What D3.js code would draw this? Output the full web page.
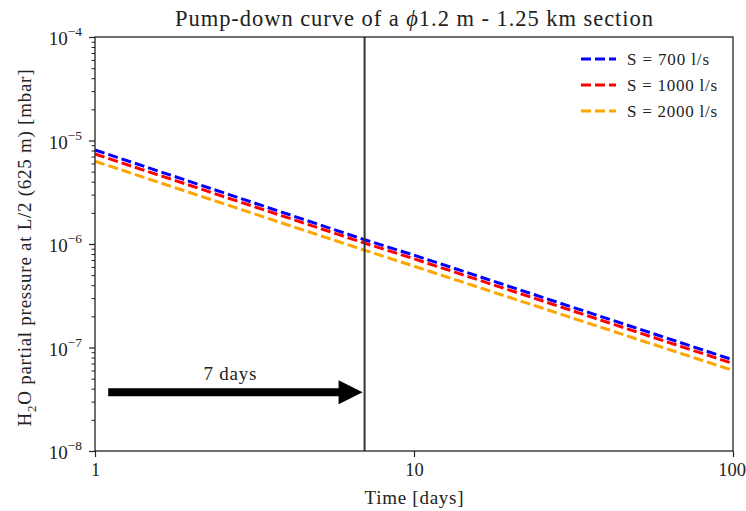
<!DOCTYPE html>
<html>
<head>
<meta charset="utf-8">
<script src="https://cdn.jsdelivr.net/npm/d3@7"></script>
<style>
  body { margin: 0; background: #fff; }
  text { font-family: "Liberation Serif", "DejaVu Serif", serif; fill: #222; }
</style>
</head>
<body>
<svg id="chart" width="746" height="511"></svg>
<script>
// values (log-log pump-down curves)
const days = [1, 7, 10, 100];
const p700 = [8.1e-6, 1.1e-6, 7.8e-7, 7.6e-8];
const p1000 = [7.4e-6, 1.02e-6, 7.2e-7, 7.0e-8];
const p2000 = [6.3e-6, 0.87e-6, 6.1e-7, 6.0e-8];
const seriesNames = ["S = 700 l/s", "S = 1000 l/s", "S = 2000 l/s"];
const seriesColors = ["#0000ff", "#ff0000", "#ffa500"];
const xTicks = [1, 10, 100];
const yTicks = [1e-8, 1e-7, 1e-6, 1e-5, 1e-4];
const markDay = 7;

const svg = d3.select("#chart");
const margin = { left: 95, right: 13, top: 37, bottom: 60 };
const W = 746, H = 511;

const x = d3.scaleLog().domain([1, 100]).range([margin.left, W - margin.right]);
const y = d3.scaleLog().domain([1e-8, 1e-4]).range([H - margin.bottom, margin.top]);
const xMid = (x.range()[0] + x.range()[1]) / 2;

// title (Palatino in the original is wider than Times, so stretch to width)
const title = svg.append("text")
   .attr("x", xMid)
   .attr("y", 26)
   .attr("text-anchor", "middle")
   .attr("textLength", 478)
   .style("font-size", "22.5px");
title.append("tspan").text("Pump-down curve of a ");
title.append("tspan").style("font-style", "italic").text("ϕ");
title.append("tspan").text("1.2 m - 1.25 km section");

// series
const allSeries = [p700, p1000, p2000];
const line = d3.line().x(d => x(d[0])).y(d => y(d[1]));
allSeries.forEach((vals, i) => {
  svg.append("path")
     .datum(days.map((d, j) => [d, vals[j]]))
     .attr("d", line)
     .attr("fill", "none")
     .attr("stroke", seriesColors[i])
     .attr("stroke-width", 3)
     .attr("stroke-dasharray", "10,4");
});

// vertical marker at 7 days
svg.append("line")
   .attr("x1", x(markDay)).attr("x2", x(markDay))
   .attr("y1", y.range()[1]).attr("y2", y.range()[0])
   .attr("stroke", "#333").attr("stroke-width", 2);

// arrow 1.1 -> 7 days
const ay = y(3.7e-8), ax0 = x(1.1), ax1 = x(6.9);
const shaft = 4, headW = 12, headL = 24;
svg.append("path")
   .attr("d", `M${ax0},${ay - shaft} L${ax1 - headL},${ay - shaft} L${ax1 - headL},${ay - headW}
               L${ax1},${ay} L${ax1 - headL},${ay + headW} L${ax1 - headL},${ay + shaft} L${ax0},${ay + shaft} Z`)
   .attr("fill", "#000");
svg.append("text")
   .attr("x", x(2.65)).attr("y", y(4.8e-8))
   .attr("text-anchor", "middle")
   .attr("textLength", 53)
   .style("font-size", "19px")
   .text("7 days");

// axes
const xAxis = d3.axisBottom(x).tickValues(xTicks).tickFormat(d3.format("d")).tickSize(6).tickPadding(6);
svg.append("g")
   .attr("transform", `translate(0,${H - margin.bottom})`)
   .call(xAxis)
   .call(g => g.select(".domain").remove())
   .call(g => g.selectAll("line").attr("stroke", "#222").attr("stroke-width", 1.2))
   .call(g => g.selectAll("text").style("font-size", "18.5px").style("font-family", "Liberation Serif").attr("fill", "#222"))
   .call(g => g.selectAll("text").filter(d => d === 100).attr("dx", -1.5));

const yMinor = [];
for (let e = -8; e < -4; e++) for (let k = 2; k < 10; k++) yMinor.push(k * Math.pow(10, e));
svg.append("g")
   .attr("transform", `translate(${margin.left},0)`)
   .call(d3.axisLeft(y).tickValues(yMinor).tickFormat("").tickSize(3.5))
   .call(g => g.select(".domain").remove())
   .call(g => g.selectAll("line").attr("stroke", "#222").attr("stroke-width", 1));

svg.append("g")
   .attr("transform", `translate(${margin.left},0)`)
   .call(d3.axisLeft(y).tickValues(yTicks).tickFormat("").tickSize(6))
   .call(g => g.select(".domain").remove())
   .call(g => g.selectAll("line").attr("stroke", "#222").attr("stroke-width", 1.2));

yTicks.forEach(v => {
  const t = svg.append("text")
     .attr("x", margin.left - 13)
     .attr("y", y(v) + 8)
     .attr("text-anchor", "end")
     .style("font-size", "19px");
  t.append("tspan").text("10");
  t.append("tspan").attr("dy", -9).style("font-size", "13.5px").text("−" + Math.round(-Math.log10(v)));
});

// frame
svg.append("rect")
   .attr("x", margin.left).attr("y", margin.top)
   .attr("width", W - margin.left - margin.right)
   .attr("height", H - margin.top - margin.bottom)
   .attr("fill", "none").attr("stroke", "#222").attr("stroke-width", 1.3);

// axis labels
svg.append("text")
   .attr("x", xMid).attr("y", 504)
   .attr("text-anchor", "middle")
   .attr("textLength", 99)
   .style("font-size", "19px")
   .text("Time [days]");

const yl = svg.append("text")
   .attr("transform", `translate(31,${(y.range()[0] + y.range()[1]) / 2 + 4}) rotate(-90)`)
   .attr("text-anchor", "middle")
   .attr("textLength", 357)
   .style("font-size", "19px");
yl.append("tspan").text("H");
yl.append("tspan").attr("dy", 5).style("font-size", "13px").text("2");
yl.append("tspan").attr("dy", -5).text("O partial pressure at L/2 (625 m) [mbar]");

// legend
const legendWidths = [82, 90, 90];
const lg = svg.append("g").attr("transform", "translate(581,59)");
seriesNames.forEach((name, i) => {
  const row = lg.append("g").attr("transform", `translate(0,${i * 26})`);
  row.append("line")
     .attr("x1", 0).attr("x2", 35).attr("y1", 0).attr("y2", 0)
     .attr("stroke", seriesColors[i]).attr("stroke-width", 3)
     .attr("stroke-dasharray", "10,4");
  row.append("text")
     .attr("x", 46).attr("y", 5.5)
     .attr("textLength", legendWidths[i])
     .style("font-size", "17px")
     .text(name);
});
</script>
</body>
</html>
